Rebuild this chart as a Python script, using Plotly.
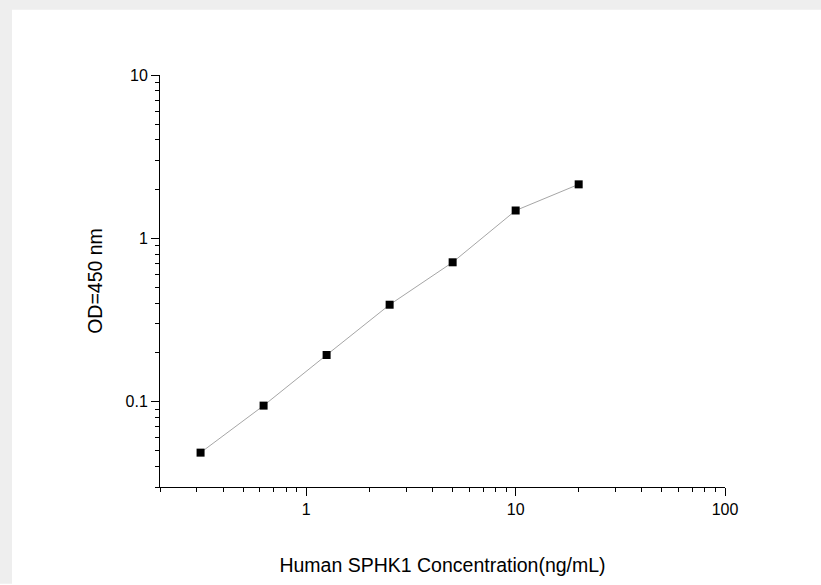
import plotly.graph_objects as go

concentration = [0.3125, 0.625, 1.25, 2.5, 5, 10, 20]
od450 = [0.0487, 0.0945, 0.193, 0.392, 0.713, 1.48, 2.14]

x_major = [1, 10, 100]
x_major_text = ["1", "10", "100"]
y_major = [0.1, 1, 10]
y_major_text = ["0.1", "1", "10"]
minor_vals = [m * 10 ** e for e in range(-2, 3) for m in range(2, 10)]

W, H = 821, 585
L, R, T, B = 160, 96, 75, 93
pw, ph = W - L - R, H - T - B


def px_x(p):
    return (p - L) / pw


def px_y(p):
    return (T + ph - p) / ph


fig = go.Figure()
fig.add_trace(go.Scatter(
    x=concentration, y=od450, mode="lines+markers",
    line=dict(color="#a6a6a6", width=1),
    marker=dict(symbol="square", size=8, color="black", line=dict(width=0)),
    showlegend=False,
))

gray = "#eeeeee"
font = "Liberation Sans, Arial, sans-serif"
fig.update_layout(
    width=W, height=H,
    margin=dict(l=L, r=R, t=T, b=B),
    paper_bgcolor="white",
    plot_bgcolor="white",
    font=dict(family=font, color="black"),
    shapes=[
        dict(type="rect", xref="paper", yref="paper", layer="below",
             x0=px_x(-5), x1=px_x(W + 5), y0=px_y(9), y1=px_y(-5),
             fillcolor=gray, line=dict(width=0)),
        dict(type="rect", xref="paper", yref="paper", layer="below",
             x0=px_x(-5), x1=px_x(12), y0=px_y(H + 5), y1=px_y(-5),
             fillcolor=gray, line=dict(width=0)),
    ],
    xaxis=dict(
        type="log", range=[0.30103 - 1, 2], showgrid=False, zeroline=False,
        showline=True, linecolor="black", linewidth=1,
        ticks="outside", ticklen=8, tickcolor="black", tickwidth=1,
        tickvals=x_major, ticktext=x_major_text, tickfont=dict(size=16),
        minor=dict(tickvals=minor_vals, ticks="outside", ticklen=4, tickcolor="black", tickwidth=1),
        title=dict(text="Human SPHK1 Concentration(ng/mL)", font=dict(size=19.5), standoff=41),
    ),
    yaxis=dict(
        type="log", range=[-1.5229, 1], showgrid=False, zeroline=False,
        showline=True, linecolor="black", linewidth=1,
        ticks="outside", ticklen=8, tickcolor="black", tickwidth=1,
        tickvals=y_major, ticktext=y_major_text, tickfont=dict(size=16),
        minor=dict(tickvals=minor_vals, ticks="outside", ticklen=4, tickcolor="black", tickwidth=1),
        title=dict(text="OD=450 nm", font=dict(size=19.5), standoff=17),
    ),
)

post = (
    "var st='margin:0;padding:0;overflow:hidden;width:821px;height:585px;background:white;';"
    "document.documentElement.style.cssText=st;document.body.style.cssText=st;"
    "var gd=document.getElementById('{plot_id}');"
    "gd.parentElement.style.cssText='position:absolute;top:0;left:0;width:821px;height:585px;';"
    "window.scrollTo(0,0);"
)
fig.write_html("out.html", config={"displayModeBar": False}, post_script=post)
